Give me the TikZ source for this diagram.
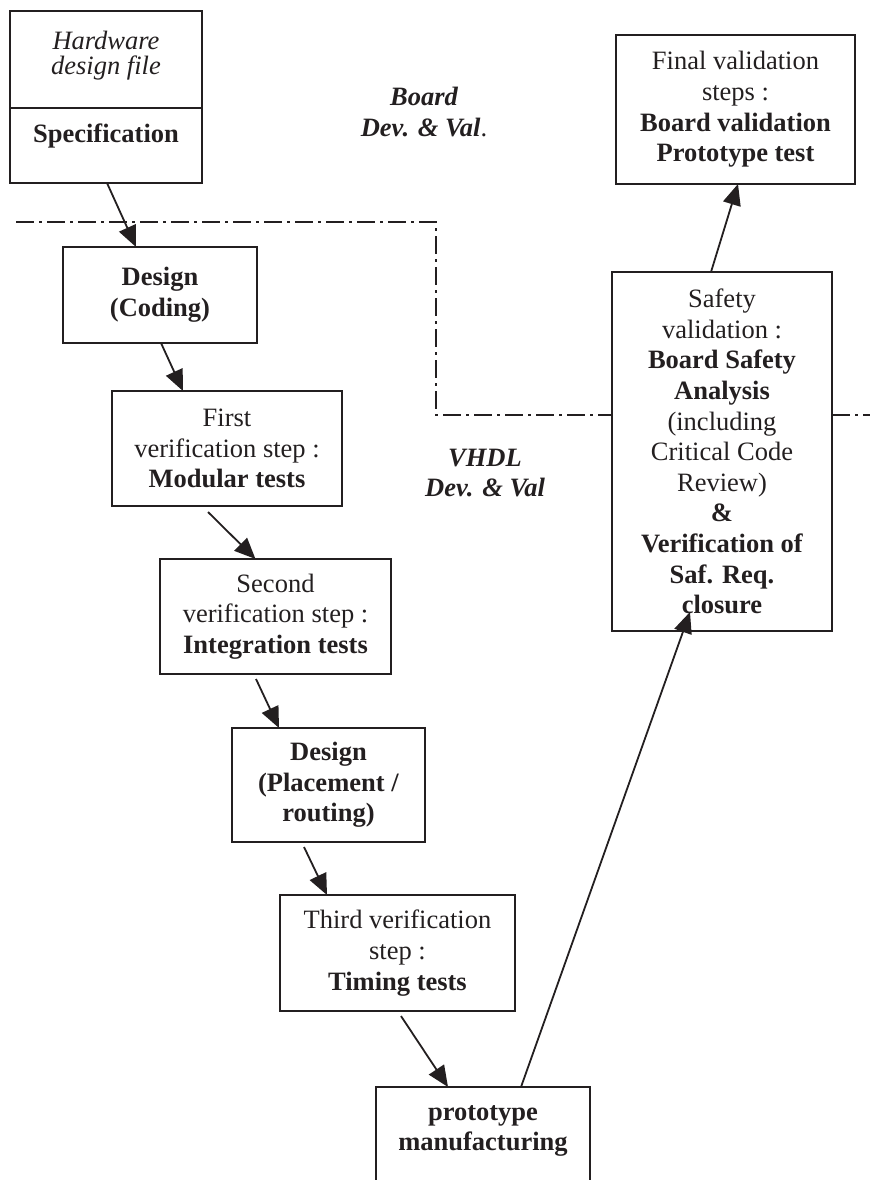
\documentclass[tikz,border=0pt]{standalone}
\usepackage{fontspec}
\setmainfont{Liberation Serif}
\usetikzlibrary{arrows.meta,calc}
\definecolor{ink}{RGB}{35,31,32}
\begin{document}
\begin{tikzpicture}[x=1pt,y=-1pt,
  every node/.style={text=ink, font=\fontsize{26.5pt}{30.6pt}\selectfont, align=center, inner sep=0pt, outer sep=0pt},
  box/.style={draw=ink, line width=1.9pt, rectangle},
  flow/.style={draw=ink, line width=1.8pt, -{Triangle[length=21pt,width=18pt]}},
  zone/.style={draw=ink, line width=1.6pt, dash pattern=on 18pt off 5pt on 3pt off 5pt},
  tag/.style={font=\fontsize{26.5pt}{30.6pt}\selectfont\bfseries\itshape}]
\useasboundingbox (0,0) rectangle (870,1180);
\clip (0,0) rectangle (870,1180);

% specification box with its two compartments
\node[box, minimum width=192pt, minimum height=172pt] (spec) at (106,97) {};
\draw[draw=ink, line width=1.9pt] ([yshift=-97pt]spec.north west) -- ([yshift=-97pt]spec.north east);
\node[font=\itshape\fontsize{26.5pt}{25pt}\selectfont] (hw) at (106,56) {Hardware\\design file};
\node[font=\bfseries\fontsize{26.5pt}{30.6pt}\selectfont] (spect) at (106,136) {Specification};

% VHDL development chain
\node[box, minimum width=194pt, minimum height=96pt] (design) at (160,295) {\textbf{Design}\\\textbf{(Coding)}};
\node[box, minimum width=230pt, minimum height=115pt] (first) at (227,448.5) {First\\verification step :\\\textbf{Modular tests}};
\node[box, minimum width=231pt, minimum height=115pt] (second) at (275.5,616.5) {Second\\verification step :\\\textbf{Integration tests}};
\node[box, minimum width=193pt, minimum height=114pt] (placement) at (328.5,785) {\textbf{Design}\\\textbf{(Placement /}\\\textbf{routing)}};
\node[box, minimum width=235pt, minimum height=116pt] (third) at (397.5,953) {Third verification\\step :\\\textbf{Timing tests}};

% prototype box, open at the bottom edge
\node[box, minimum width=214pt, minimum height=120pt, anchor=north] (proto) at (483,1087) {};
\node (protot) at (483,1131) {\textbf{prototype}\\\textbf{manufacturing}};

% board validation side
\node[box, minimum width=220pt, minimum height=359pt] (safety) at (722,451.5) {Safety\\validation :\\\textbf{Board Safety}\\\textbf{Analysis}\\(including\\Critical Code\\Review)\\\textbf{\&}\\\textbf{Verification of}\\\textbf{Saf. Req.}\\\textbf{closure}};
\node[box, minimum width=239pt, minimum height=149pt] (final) at (735.5,109.5) {Final validation\\steps :\\\textbf{Board validation}\\\textbf{Prototype test}};

% zone labels
\node[tag] (board) at (424,112) {Board\\Dev. \& Val\textnormal{.}};
\node[tag] (vhdl) at (485,473) {VHDL\\Dev. \& Val};

% zone boundary
\coordinate (zl) at (16,222);
\coordinate (zc1) at (436,222);
\coordinate (zc2) at (436,415);
\coordinate (zr) at (870,415);
\draw[zone] (zl) -- (zc1) -- (zc2) -- (zc2 -| safety.west);
\draw[zone] (zc2 -| safety.east) -- (zr);

% flow arrows
\draw[flow] ([xshift=1pt]spec.south) -- ([xshift=-24pt]design.north);
\draw[flow] ([xshift=1pt]design.south) -- ([xshift=-44pt]first.north);
\draw[flow] ([xshift=-19pt,yshift=-6pt]first.south) -- ([xshift=-20pt]second.north);
\draw[flow] ([xshift=-19.5pt,yshift=-5pt]second.south) -- ([xshift=-49.5pt]placement.north);
\draw[flow] ([xshift=-24.5pt,yshift=-5pt]placement.south) -- ([xshift=-70.5pt]third.north);
\draw[flow] ([xshift=3.5pt,yshift=-5pt]third.south) -- ([xshift=-35pt]proto.north);
\draw[flow] ([xshift=38pt]proto.north) -- ([xshift=-32pt,yshift=19pt]safety.south);
\draw[flow] ([xshift=-11pt]safety.north) -- ([xshift=2.5pt]final.south);
\end{tikzpicture}
\end{document}
